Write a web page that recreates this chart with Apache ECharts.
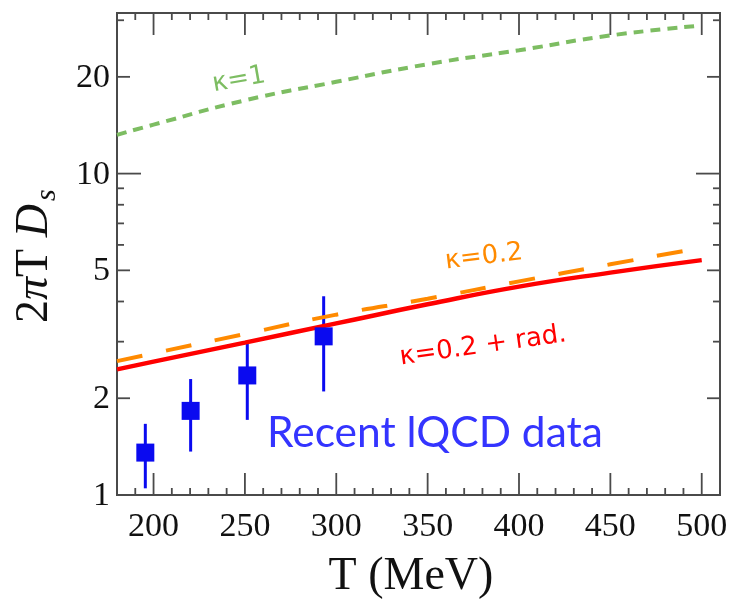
<!DOCTYPE html>
<html>
<head>
<meta charset="utf-8">
<script src="https://cdn.jsdelivr.net/npm/echarts@6/dist/echarts.min.js"></script>
<style>
  html, body { margin: 0; padding: 0; background: #fff; }
  #chart { width: 735px; height: 603px; }
</style>
</head>
<body>
<div id="chart"></div>
<script>
// Temperature grid (MeV) for the model curves
const tempGrid = [180, 200, 250, 300, 350, 400, 450, 500];
// 2πT Ds for the model curves
const kappa1 = [13.2, 14.2, 16.9, 19.3, 21.9, 24.2, 26.9, 28.9];
const kappa02 = [2.61, 2.76, 3.17, 3.64, 4.08, 4.62, 5.22, 5.88];
const kappa02Rad = [2.46, 2.60, 2.98, 3.42, 3.92, 4.45, 4.92, 5.38];

// Lattice QCD points with error ranges
const lqcdT = [195.5, 220.3, 251.3, 293.1];
const lqcdVal = [1.355, 1.827, 2.355, 3.116];
const lqcdLow = [1.049, 1.365, 1.713, 2.10];
const lqcdHigh = [1.665, 2.295, 3.022, 4.153];

// Axis ticks and labels
const xMajor = [200, 250, 300, 350, 400, 450, 500];
const xMinor = [190, 210, 220, 230, 240, 260, 270, 280, 290, 310, 320, 330, 340, 360, 370, 380, 390, 410, 420, 430, 440, 460, 470, 480, 490, 510];
const yLabels = [1, 2, 5, 10, 20];
const yMajor = [10];
const yMid = [2, 5, 20];
const yMinor = [3, 4, 6, 7, 8, 9, 30];

const X_MIN = 180, X_MAX = 510, Y_MIN = 1, Y_MAX = 31.6;
const AXIS_COLOR = '#4a4a4a';
const LABEL_COLOR = '#111';
const SERIF = 'Liberation Serif';
const SANS = 'DejaVu Sans';

// Tick lengths by tier (px)
const X_MAJOR_LEN = 22, X_MINOR_LEN = 7;
const Y_MAJOR_LEN = 24, Y_MID_LEN = 13, Y_MINOR_LEN = 7;

const pairs = (xs, ys) => xs.map((x, i) => [x, ys[i]]);

const chart = echarts.init(document.getElementById('chart'), null, { renderer: 'canvas' });

const baseOption = {
  animation: false,
  backgroundColor: '#ffffff',
  grid: {
    left: 117, right: 15, top: 13, bottom: 108,
    show: true, borderColor: AXIS_COLOR, borderWidth: 2, backgroundColor: 'transparent'
  },
  xAxis: {
    type: 'value', min: X_MIN, max: X_MAX,
    axisLine: { show: false }, axisTick: { show: false },
    axisLabel: { show: false }, splitLine: { show: false }
  },
  yAxis: {
    type: 'log', logBase: 10, min: Y_MIN, max: Y_MAX,
    axisLine: { show: false }, axisTick: { show: false },
    axisLabel: { show: false }, splitLine: { show: false }
  },
  series: [
    {
      name: 'κ=1', type: 'line', data: pairs(tempGrid, kappa1),
      smooth: true, symbol: 'none',
      lineStyle: { color: '#7dbd62', width: 4, type: [10, 7], cap: 'butt' }
    },
    {
      name: 'κ=0.2', type: 'line', data: pairs(tempGrid, kappa02),
      smooth: true, symbol: 'none',
      lineStyle: { color: '#ff8a00', width: 4, type: [26, 24], cap: 'butt' }
    },
    {
      name: 'κ=0.2 + rad.', type: 'line', data: pairs(tempGrid, kappa02Rad),
      smooth: true, symbol: 'none',
      lineStyle: { color: '#ff0000', width: 4.5 }
    },
    {
      name: 'lQCD errors', type: 'custom',
      data: lqcdT.map((t, i) => [t, lqcdLow[i], lqcdHigh[i]]),
      encode: { x: 0, y: [1, 2] },
      renderItem: function (params, api) {
        const lo = api.coord([api.value(0), api.value(1)]);
        const hi = api.coord([api.value(0), api.value(2)]);
        return {
          type: 'line',
          shape: { x1: lo[0], y1: lo[1], x2: hi[0], y2: hi[1] },
          style: { stroke: '#0a0af0', lineWidth: 3 }
        };
      },
      z: 3
    },
    {
      name: 'lQCD', type: 'scatter', data: pairs(lqcdT, lqcdVal),
      symbol: 'rect', symbolSize: 18,
      itemStyle: { color: '#0a0af0', opacity: 1 }, z: 4
    }
  ]
};

// Frame decorations placed through the chart's own coordinate conversion
function toPx(x, y) {
  return chart.convertToPixel({ gridIndex: 0 }, [x, y]);
}
function tickLine(x1, y1, x2, y2) {
  return { type: 'line', silent: true, z: 10,
           shape: { x1: x1, y1: y1, x2: x2, y2: y2 },
           style: { stroke: AXIS_COLOR, lineWidth: 1.8 } };
}

function buildDecor() {
  const els = [];
  const xTicks = xMajor.map(v => [v, X_MAJOR_LEN]).concat(xMinor.map(v => [v, X_MINOR_LEN]));
  xTicks.forEach(([v, len]) => {
    const b = toPx(v, Y_MIN), t = toPx(v, Y_MAX);
    els.push(tickLine(b[0], b[1], b[0], b[1] - len));
    els.push(tickLine(t[0], t[1], t[0], t[1] + len));
  });
  xMajor.forEach(v => {
    const b = toPx(v, Y_MIN);
    els.push({ type: 'text', silent: true, x: b[0], y: b[1] + 32,
      style: { text: String(v), font: '34px "Liberation Serif"', fill: LABEL_COLOR,
               align: 'center', verticalAlign: 'middle' } });
  });
  const yTicks = yMajor.map(v => [v, Y_MAJOR_LEN])
    .concat(yMid.map(v => [v, Y_MID_LEN]))
    .concat(yMinor.map(v => [v, Y_MINOR_LEN]));
  yTicks.forEach(([v, len]) => {
    const l = toPx(X_MIN, v), r = toPx(X_MAX, v);
    els.push(tickLine(l[0], l[1], l[0] + len, l[1]));
    els.push(tickLine(r[0], r[1], r[0] - len, r[1]));
  });
  yLabels.forEach(v => {
    const l = toPx(X_MIN, v);
    els.push({ type: 'text', silent: true, x: l[0] - 7, y: l[1] + 1,
      style: { text: String(v), font: '34px "Liberation Serif"', fill: LABEL_COLOR,
               align: 'right', verticalAlign: 'middle' } });
  });

  // Axis titles
  els.push({
    type: 'group', x: 35, y: 256, rotation: Math.PI / 2,
    children: [
      {
        type: 'text', x: -67, y: 0,
        style: {
          text: '{n|2}{p|π}{n|T }{d|D}',
          rich: {
            n: { fontFamily: SERIF, fontSize: 46, fill: LABEL_COLOR },
            p: { fontFamily: SERIF, fontSize: 46, fontStyle: 'italic', fill: LABEL_COLOR },
            d: { fontFamily: SERIF, fontSize: 46, fontStyle: 'italic', fill: LABEL_COLOR }
          },
          align: 'left', verticalAlign: 'middle'
        }
      },
      {
        type: 'text', x: 55, y: 12,
        style: { text: 's', font: 'italic 30px "Liberation Serif"', fill: LABEL_COLOR,
                 align: 'left', verticalAlign: 'middle' }
      }
    ]
  });
  els.push({
    type: 'text', x: 411, y: 577,
    style: { text: 'T (MeV)', font: '46px "Liberation Serif"', fill: LABEL_COLOR,
             align: 'center', verticalAlign: 'middle' }
  });

  // Curve and data annotations
  els.push({
    type: 'text', x: 239, y: 80, rotation: 10 * Math.PI / 180,
    style: { text: 'κ=1', font: '26px "DejaVu Sans"', fill: '#7dbd62',
             align: 'center', verticalAlign: 'middle' }
  });
  els.push({
    type: 'text', x: 484, y: 257, rotation: 7 * Math.PI / 180,
    style: { text: 'κ=0.2', font: '26px "DejaVu Sans"', fill: '#ff8a00',
             align: 'center', verticalAlign: 'middle' }
  });
  els.push({
    type: 'text', x: 483, y: 346, rotation: 8 * Math.PI / 180,
    style: { text: 'κ=0.2 + rad.', font: '26px "DejaVu Sans"', fill: '#ff0000',
             align: 'center', verticalAlign: 'middle' }
  });
  els.push({
    type: 'text', x: 267, y: 433,
    style: { text: 'Recent lQCD data', font: '42.5px Lato', fill: '#3434ff',
             align: 'left', verticalAlign: 'middle' }
  });
  return els;
}

function draw() {
  chart.setOption(baseOption);
  chart.setOption({ graphic: buildDecor() });
}

// Make sure local fonts are ready before text goes onto the canvas
const fontLoads = (document.fonts && document.fonts.load) ? Promise.all([
  document.fonts.load('34px "Liberation Serif"'),
  document.fonts.load('italic 46px "Liberation Serif"'),
  document.fonts.load('26px "DejaVu Sans"'),
  document.fonts.load('42px Lato')
]) : Promise.resolve();
fontLoads.then(draw, draw);
</script>
</body>
</html>
